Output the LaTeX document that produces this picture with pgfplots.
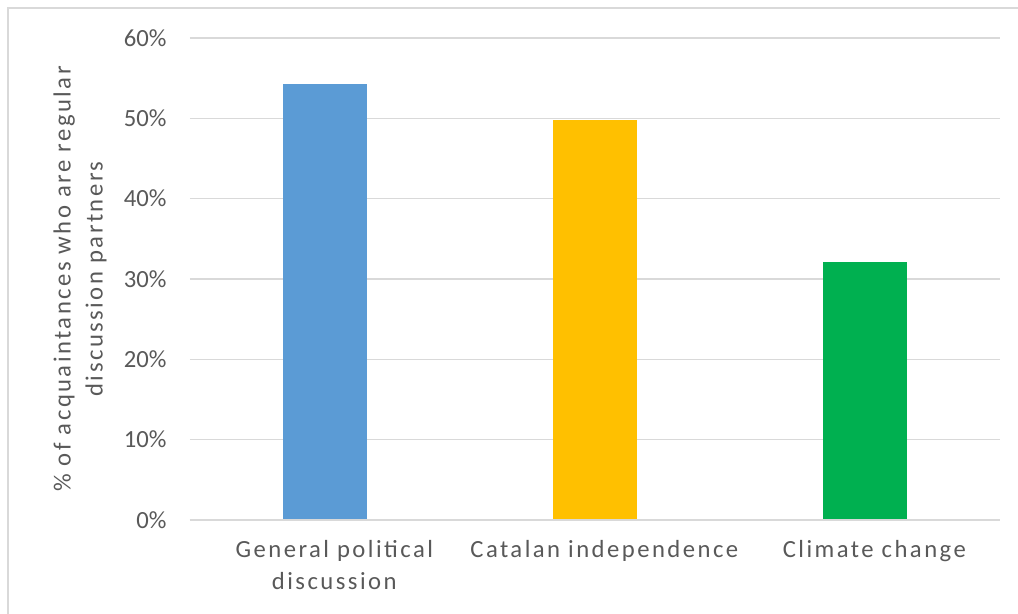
\documentclass[border=0pt]{standalone}
\usepackage{pgfplots}
\pgfplotsset{compat=1.18}
\usepackage{fontspec}
\setmainfont{Carlito}
\newfontfamily\spaced[LetterSpace=10]{Carlito}
\definecolor{txt}{HTML}{595959}
\definecolor{gridc}{HTML}{D9D9D9}
\definecolor{c1}{HTML}{5B9BD5}
\definecolor{c2}{HTML}{FFC000}
\definecolor{c3}{HTML}{00B050}
\begin{document}
\begin{tikzpicture}
\useasboundingbox (0,0) rectangle (763.5pt,460.5pt);
\fill[white] (0,0) rectangle (763.5pt,460.5pt);
\draw[gridc,line width=1.5pt] (6pt,0) -- (6pt,454.5pt) -- (763.5pt,454.5pt);
\begin{axis}[
  at={(142.5pt,70.5pt)}, anchor=south west,
  scale only axis, width=607.5pt, height=361.5pt,
  xmin=-0.5, xmax=2.5, ymin=0, ymax=0.6,
  axis line style={draw=none},
  ytick={0,0.1,0.2,0.3,0.4,0.5,0.6},
  yticklabels={0\%,10\%,20\%,30\%,40\%,50\%,60\%},
  ymajorgrids, grid style={gridc,line width=1.1pt},
  major tick length=0pt,
  xtick={0,1,2},
  xticklabels={General political\\discussion, Catalan independence, Climate change},
  x tick label style={font=\fontsize{18.5}{23.5}\selectfont\spaced, text=txt, align=center, anchor=north, yshift=-12pt, xshift=7pt},
  y tick label style={font=\fontsize{18.5}{22}\selectfont, text=txt, anchor=east, xshift=-14pt},
  ylabel={\% of acquaintances who are regular\\discussion partners},
  ylabel style={font=\fontsize{18.5}{24}\selectfont\spaced, text=txt, align=center, at={(axis description cs:0,0.5)}, anchor=south, yshift=59pt, xshift=0pt},
  ybar, bar width=63pt, bar shift=0pt,
  clip=false,
]
\addplot[fill=c1, draw=none] coordinates {(0,0.543)};
\addplot[fill=c2, draw=none] coordinates {(1,0.498)};
\addplot[fill=c3, draw=none] coordinates {(2,0.321)};
\draw[gridc,line width=1.5pt] (axis cs:-0.5,0) -- (axis cs:2.5,0);
\end{axis}
\end{tikzpicture}
\end{document}
